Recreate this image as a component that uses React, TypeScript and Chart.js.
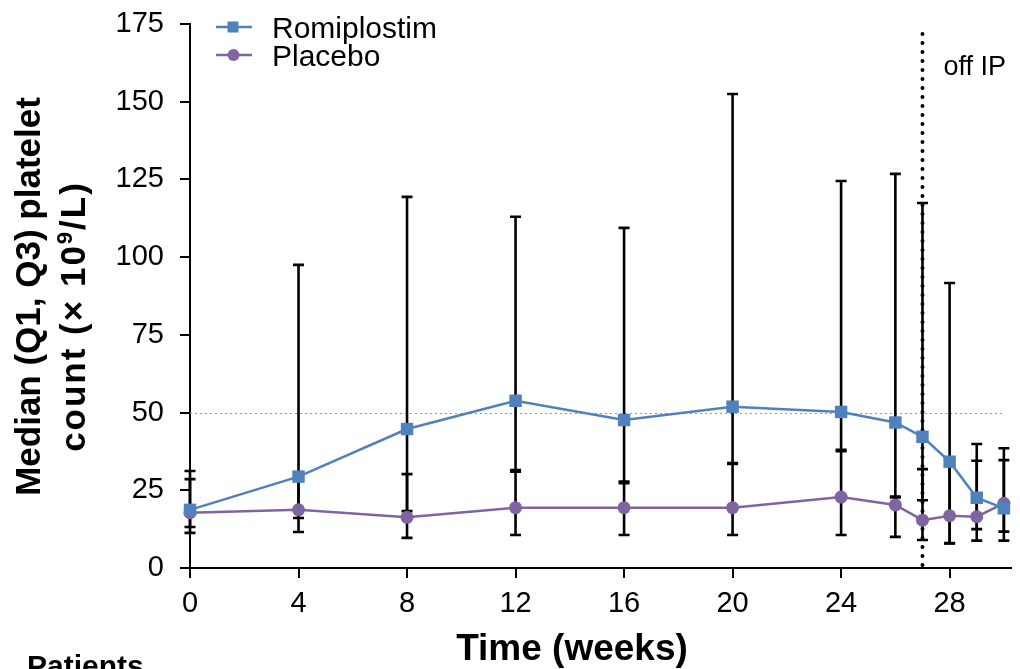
import React, { useEffect, useRef } from "react";
import { Chart, registerables } from "chart.js";

Chart.register(...registerables);

const weeks = [0, 4, 8, 12, 16, 20, 24, 26, 27, 28, 29, 30];
const romiplostimMedian = [18.7, 29.4, 44.7, 53.8, 47.6, 51.9, 50.2, 46.8, 42.2, 34.2, 22.6, 19.2];
const romiplostimQ1 = [11.3, 16.1, 18.3, 31.0, 27.3, 33.5, 37.6, 22.7, 21.8, 8.0, 12.5, 11.7];
const romiplostimQ3 = [31.2, 97.5, 119.4, 113.0, 109.4, 152.5, 124.5, 126.8, 117.4, 91.7, 39.9, 38.5];
const placeboMedian = [17.8, 18.7, 16.3, 19.4, 19.4, 19.4, 22.8, 20.3, 15.4, 16.8, 16.5, 20.8];
const placeboQ1 = [13.2, 11.6, 9.7, 10.6, 10.6, 10.6, 10.6, 10.0, 9.0, 7.9, 8.8, 8.8];
const placeboQ3 = [28.6, 29.4, 30.2, 31.5, 27.8, 33.8, 38.0, 23.0, 31.8, 34.2, 34.5, 34.7];

const xTicks = [0, 4, 8, 12, 16, 20, 24, 28];
const yTicks = [0, 25, 50, 75, 100, 125, 150, 175];
const referenceLevel = 50;
const offIPWeek = 27;

const seriesNames = ["Romiplostim", "Placebo"];
const xTitle = "Time (weeks)";
const yTitleLine1 = "Median (Q1, Q3) platelet";
const yTitleLine2 = ["count (× 10", "9", "/L)"];
const offIPLabel = "off IP";
const patientsLabel = "Patients";

const ROMI = "#4f81bd";
const PLAC = "#8064a2";
const FONT = "'Liberation Sans', Arial, Helvetica, sans-serif";

const overlayPlugin = {
  id: "overlay",
  beforeDatasetsDraw(chart: any) {
    const { ctx, scales, chartArea } = chart;
    const xs = scales.x;
    const ys = scales.y;
    ctx.save();
    ctx.strokeStyle = "#9a9a9a";
    ctx.lineWidth = 1;
    ctx.setLineDash([2, 3]);
    const yr = Math.round(ys.getPixelForValue(referenceLevel)) + 0.5;
    ctx.beginPath();
    ctx.moveTo(chartArea.left, yr);
    ctx.lineTo(xs.getPixelForValue(30), yr);
    ctx.stroke();
    ctx.setLineDash([]);
    const bars = [
      [romiplostimQ1, romiplostimQ3],
      [placeboQ1, placeboQ3],
    ];
    ctx.strokeStyle = "#000";
    ctx.lineWidth = 2.6;
    ctx.lineCap = "butt";
    bars.forEach(([q1, q3]) => {
      weeks.forEach((w, i) => {
        const x = xs.getPixelForValue(w);
        const y1 = ys.getPixelForValue(q1[i]);
        const y3 = ys.getPixelForValue(q3[i]);
        ctx.beginPath();
        ctx.moveTo(x, y1);
        ctx.lineTo(x, y3);
        ctx.moveTo(x - 5.5, y1);
        ctx.lineTo(x + 5.5, y1);
        ctx.moveTo(x - 5.5, y3);
        ctx.lineTo(x + 5.5, y3);
        ctx.stroke();
      });
    });
    const xo = xs.getPixelForValue(offIPWeek);
    ctx.strokeStyle = "#000";
    ctx.lineWidth = 4;
    ctx.lineCap = "round";
    ctx.setLineDash([0, 9]);
    ctx.beginPath();
    ctx.moveTo(xo, 34);
    ctx.lineTo(xo, chartArea.bottom + 2);
    ctx.stroke();
    ctx.setLineDash([]);
    ctx.restore();
  },
  afterDraw(chart: any) {
    const { ctx, scales } = chart;
    const xs = scales.x;
    ctx.save();
    ctx.fillStyle = "#000";
    ctx.font = `27px ${FONT}`;
    ctx.textAlign = "left";
    ctx.textBaseline = "alphabetic";
    ctx.fillText(offIPLabel, xs.getPixelForValue(offIPWeek) + 21, 75);
    ctx.font = `bold 37px ${FONT}`;
    ctx.textAlign = "center";
    ctx.fillText(xTitle, 572, 660);
    ctx.save();
    ctx.translate(40, 296.5);
    ctx.rotate(-Math.PI / 2);
    ctx.font = `bold 35px ${FONT}`;
    ctx.textAlign = "center";
    ctx.fillText(yTitleLine1, 0, 0);
    ctx.restore();
    ctx.save();
    ctx.translate(85, 316.5);
    ctx.rotate(-Math.PI / 2);
    const extra = 2;
    (ctx as any).letterSpacing = `${extra}px`;
    ctx.font = `bold 35px ${FONT}`;
    const w0 = ctx.measureText(yTitleLine2[0]).width;
    const w2 = ctx.measureText(yTitleLine2[2]).width;
    ctx.font = `bold 22px ${FONT}`;
    const w1 = ctx.measureText(yTitleLine2[1]).width;
    const total = w0 + w1 + w2;
    let sx = -total / 2;
    ctx.textAlign = "left";
    ctx.font = `bold 35px ${FONT}`;
    ctx.fillText(yTitleLine2[0], sx, 0);
    sx += w0;
    ctx.font = `bold 22px ${FONT}`;
    ctx.fillText(yTitleLine2[1], sx, -13);
    sx += w1;
    ctx.font = `bold 35px ${FONT}`;
    ctx.fillText(yTitleLine2[2], sx, 0);
    (ctx as any).letterSpacing = "0px";
    ctx.restore();
    const rows = [
      { name: seriesNames[0], color: ROMI, style: "rect", y: 27, base: 38 },
      { name: seriesNames[1], color: PLAC, style: "circle", y: 55, base: 66 },
    ];
    rows.forEach((r) => {
      ctx.strokeStyle = r.color;
      ctx.lineWidth = 2.5;
      ctx.beginPath();
      ctx.moveTo(216, r.y);
      ctx.lineTo(252, r.y);
      ctx.stroke();
      ctx.fillStyle = r.color;
      if (r.style === "rect") {
        ctx.fillRect(227.5, r.y - 5.5, 11, 11);
      } else {
        ctx.beginPath();
        ctx.arc(233.5, r.y, 6, 0, Math.PI * 2);
        ctx.fill();
      }
      ctx.fillStyle = "#000";
      ctx.font = `30px ${FONT}`;
      ctx.textAlign = "left";
      ctx.fillText(r.name, 272, r.base);
    });
    ctx.font = `bold 30px ${FONT}`;
    ctx.textAlign = "left";
    ctx.fillText(patientsLabel, 27, 676);
    ctx.restore();
  },
};

export default function App() {
  const ref = useRef<HTMLCanvasElement | null>(null);
  useEffect(() => {
    if (!ref.current) return;
    const chart = new Chart(ref.current, {
      type: "line",
      data: {
        datasets: [
          {
            label: seriesNames[0],
            data: weeks.map((w, i) => ({ x: w, y: romiplostimMedian[i] })),
            borderColor: ROMI,
            backgroundColor: ROMI,
            borderWidth: 2.5,
            pointStyle: "rect",
            pointRadius: 8.8,
            pointBorderWidth: 0,
            pointHoverRadius: 8.8,
            clip: false,
          },
          {
            label: seriesNames[1],
            data: weeks.map((w, i) => ({ x: w, y: placeboMedian[i] })),
            borderColor: PLAC,
            backgroundColor: PLAC,
            borderWidth: 2.5,
            pointStyle: "circle",
            pointRadius: 6.5,
            pointBorderWidth: 0,
            pointHoverRadius: 6.5,
            clip: false,
          },
        ],
      },
      options: {
        responsive: false,
        animation: false,
        events: [],
        layout: { padding: { top: 24, right: 8, left: 0, bottom: 0 } },
        plugins: { legend: { display: false }, tooltip: { enabled: false }, title: { display: false } },
        scales: {
          x: {
            type: "linear",
            min: 0,
            max: 30.27,
            afterBuildTicks: (s: any) => {
              s.ticks = xTicks.map((v) => ({ value: v }));
            },
            afterFit: (s: any) => {
              s.height = 101;
              s.paddingLeft = 0;
              s.paddingRight = 0;
            },
            grid: { drawOnChartArea: false, drawTicks: true, tickLength: 10, color: "#000", lineWidth: 2 },
            border: { display: true, color: "#000", width: 2 },
            ticks: { color: "#000", font: { family: FONT, size: 29 }, padding: 9, maxRotation: 0, autoSkip: false },
          },
          y: {
            type: "linear",
            min: 0,
            max: 175,
            afterBuildTicks: (s: any) => {
              s.ticks = yTicks.map((v) => ({ value: v }));
            },
            afterFit: (s: any) => {
              s.width = 190;
              s.paddingTop = 0;
              s.paddingBottom = 0;
            },
            grid: { drawOnChartArea: false, drawTicks: true, tickLength: 10, color: "#000", lineWidth: 2 },
            border: { display: true, color: "#000", width: 2 },
            ticks: { color: "#000", font: { family: FONT, size: 29 }, padding: 16, autoSkip: false },
          },
        },
      },
      plugins: [overlayPlugin],
    });
    return () => chart.destroy();
  }, []);
  return (
    <div style={{ position: "absolute", left: 0, top: 0, width: 1020, height: 669, background: "#fff" }}>
      <canvas ref={ref} width={1020} height={669} style={{ display: "block", width: 1020, height: 669 }} />
    </div>
  );
}
